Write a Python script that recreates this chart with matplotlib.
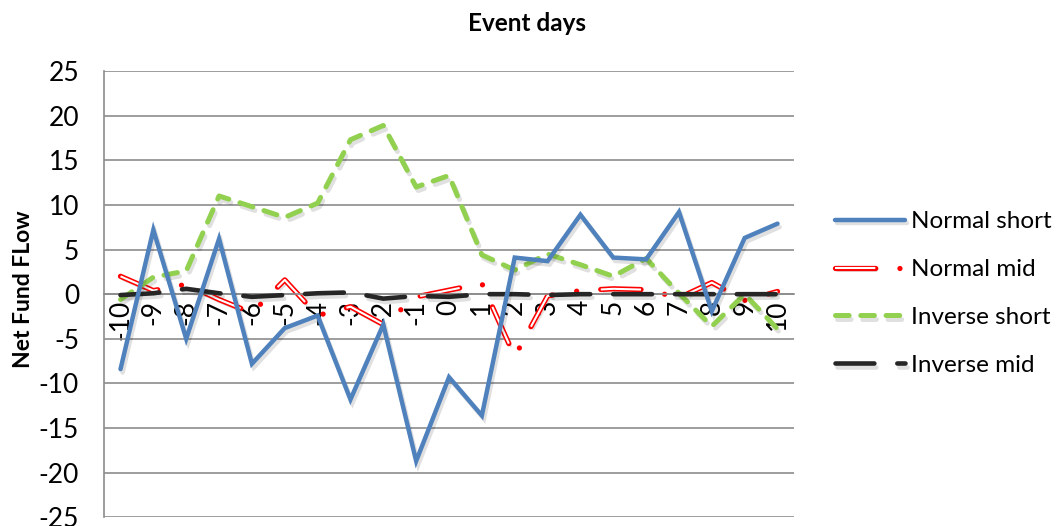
import matplotlib
matplotlib.use("Agg")
import matplotlib.pyplot as plt
import matplotlib.patheffects as pe

plt.rcParams["font.family"] = ["Lato", "DejaVu Sans"]
plt.rcParams["lines.scale_dashes"] = False

# ─── data ─────────────────────────────────────────────
days = list(range(-10, 11))
day_labels = [str(d) for d in days]

normal_short = [-8.4, 7.2, -5.0, 6.2, -7.8, -3.8, -2.4, -11.8, -3.4, -18.7, -9.3,
                -13.6, 4.1, 3.7, 8.9, 4.1, 3.9, 9.2, -1.9, 6.3, 7.9]
normal_mid = [2.0, 0.4, 1.1, -0.6, -2.1, 1.6, -2.4, -1.4, -3.4, -0.3, 0.45,
              1.2, -7.0, -0.2, 0.4, 0.6, 0.5, -0.4, 1.3, -0.7, 0.3]
inverse_short = [-0.6, 1.9, 2.6, 11.0, 9.8, 8.6, 10.2, 17.3, 18.9, 12.0, 13.3,
                 4.4, 2.7, 4.5, 3.3, 2.0, 4.0, 0.1, -3.6, 0.0, -3.9]
inverse_mid = [-0.1, 0.1, 0.6, 0.1, -0.3, -0.1, 0.1, 0.2, -0.5, -0.2, -0.3,
               0.0, 0.0, -0.1, 0.0, 0.0, 0.0, 0.0, 0.0, 0.0, 0.0]

series_names = ["Normal short", "Normal mid", "Inverse short", "Inverse mid"]
yticks = list(range(-25, 30, 5))

FS = 17.5      # 图例
TICK_FS = 19   # 刻度
GRID = "#8c8c8c"

fig = plt.figure(figsize=(10.62, 5.26), dpi=100)
ax = fig.add_axes([0.098, 0.0165, 0.6496, 0.8485])

# 横轴放在 y=0 处（先设置位置，再设置刻度标签）
ax.spines["top"].set_visible(False)
ax.spines["right"].set_visible(False)
ax.spines["bottom"].set_position(("data", 0))
for s in ("left", "bottom"):
    ax.spines[s].set_color(GRID)
    ax.spines[s].set_linewidth(1.2)


def shadow():
    return pe.SimpleLineShadow(offset=(1.5, -2.5), shadow_color="black", alpha=0.12)


# 红色空心点划线：外层红色描边 + 内层白线（点处白线长度几乎为 0）
l_nm, = ax.plot(days, normal_mid, color="white", lw=1.5,
                dashes=(29, 17.4, 0.01, 17.4), dash_capstyle="butt",
                solid_capstyle="butt", zorder=2,
                path_effects=[shadow(),
                              pe.Stroke(linewidth=3.8, foreground="#ff0000", capstyle="round"),
                              pe.Normal()])
l_is, = ax.plot(days, inverse_short, color="#92d050", lw=3.6,
                dashes=(9.8, 8.4), dash_capstyle="round", zorder=3,
                path_effects=[shadow(), pe.Normal()])
l_im, = ax.plot(days, inverse_mid, color="#262626", lw=3.3,
                dashes=(28, 16.5), dash_capstyle="round", zorder=4,
                path_effects=[shadow(), pe.Normal()])
l_ns, = ax.plot(days, normal_short, color="#4f81bd", lw=3.2,
                solid_capstyle="round", solid_joinstyle="miter", zorder=5,
                path_effects=[shadow(), pe.Normal()])

ax.set_xlim(-10.5, 10.5)
ax.set_ylim(-25, 25)
ax.set_yticks(yticks)
ax.set_yticklabels([str(v) for v in yticks])
ax.set_xticks(days)
ax.set_xticklabels(day_labels)
ax.tick_params(axis="y", length=0, pad=18, labelsize=TICK_FS)
ax.tick_params(axis="x", length=0, pad=4, labelsize=TICK_FS, labelrotation=90)
ax.yaxis.grid(True, color=GRID, lw=1.2)
ax.set_axisbelow(True)

fig.text(0.496, 0.956, "Event days", ha="center", va="center",
         fontsize=FS, fontweight="bold")
fig.text(0.022, 0.45, "Net Fund FLow", ha="center", va="center",
         rotation=90, fontsize=16.5, fontweight="bold")

fig.legend([l_ns, l_nm, l_is, l_im], series_names, loc="center left",
           bbox_to_anchor=(0.786, 0.442), frameon=False, fontsize=FS,
           handlelength=2.9, handletextpad=0.25, labelspacing=1.1,
           borderaxespad=0, borderpad=0)

fig.savefig("out.png", dpi=100)
